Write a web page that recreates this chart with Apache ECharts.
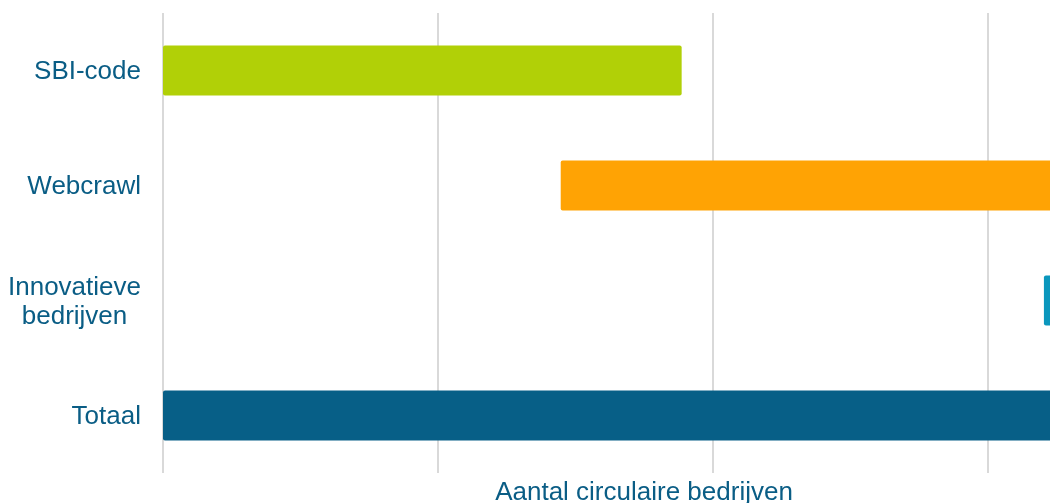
<!DOCTYPE html>
<html>
<head>
<meta charset="utf-8">
<script src="https://cdn.jsdelivr.net/npm/echarts@6/dist/echarts.min.js"></script>
<style>
  html, body { margin: 0; padding: 0; background: #ffffff; }
  #chart { width: 1050px; height: 503px; }
</style>
</head>
<body>
<div id="chart"></div>
<script>
// categories (top to bottom)
var categories = ['SBI-code', 'Webcrawl', 'Innovatieve\nbedrijven', 'Totaal'];
// each bar floats from start to end
var barStart = [0, 1447, 3205, 0];
var barEnd = [1887, 3400, 3300, 3450];
var barColors = ['#b1d007', '#ffa304', '#0b97bd', '#075f87'];

var chart = echarts.init(document.getElementById('chart'));

var lengths = barEnd.map(function (v, i) { return v - barStart[i]; });

var option = {
  animation: false,
  grid: {
    left: 163,
    top: 13,
    width: 962,
    height: 460,
    outerBoundsMode: 'none',
    containLabel: false
  },
  xAxis: {
    type: 'value',
    min: 0,
    max: 3500,
    interval: 1000,
    name: 'Aantal circulaire bedrijven',
    nameLocation: 'middle',
    nameGap: 7,
    nameTextStyle: {
      color: '#0a5d85',
      fontSize: 26,
      fontFamily: 'Liberation Sans'
    },
    axisLine: { show: false },
    axisTick: { show: false },
    axisLabel: { show: false },
    splitLine: {
      show: true,
      lineStyle: { color: '#d9d9d9', width: 2 }
    }
  },
  yAxis: {
    type: 'category',
    inverse: true,
    data: categories,
    axisLine: { show: false },
    axisTick: { show: false },
    axisLabel: {
      margin: 22,
      color: '#0a5d85',
      fontSize: 26,
      fontFamily: 'Liberation Sans',
      lineHeight: 29,
      padding: [3, 0, 0, 0],
      formatter: function (val) {
        return val.split('\n').map(function (s) { return '{c|' + s + '}'; }).join('\n');
      },
      rich: {
        c: {
          align: 'center',
          color: '#0a5d85',
          fontSize: 26,
          fontFamily: 'Liberation Sans',
          lineHeight: 29
        }
      }
    }
  },
  series: [
    {
      name: 'base',
      type: 'bar',
      stack: 'a',
      barWidth: 50,
      silent: true,
      itemStyle: { color: 'transparent' },
      data: barStart
    },
    {
      name: 'value',
      type: 'bar',
      stack: 'a',
      barWidth: 50,
      data: lengths.map(function (v, i) {
        return { value: v, itemStyle: { color: barColors[i], borderRadius: 2 } };
      })
    }
  ]
};

chart.setOption(option);
window.addEventListener('resize', function () {
  chart.resize();
});
</script>
</body>
</html>
